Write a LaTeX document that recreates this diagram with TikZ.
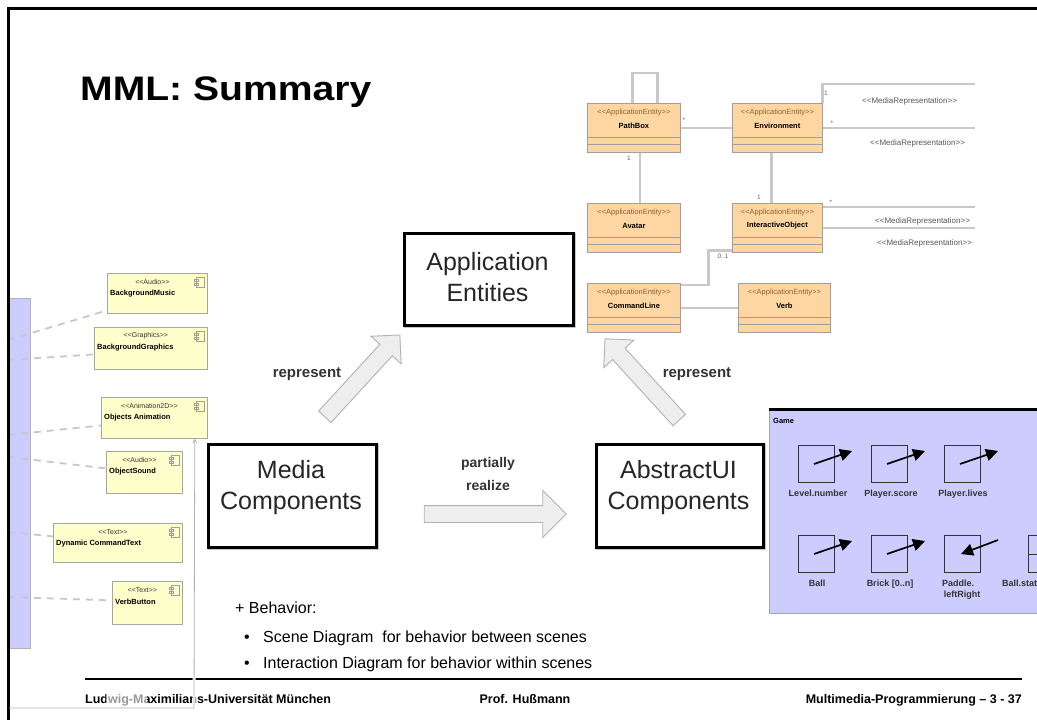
\documentclass[tikz,border=0pt]{standalone}
\usepackage{fontspec}
\usepackage{graphicx}
\setmainfont{Liberation Sans}
\usetikzlibrary{shapes.arrows,arrows.meta}

\definecolor{lavender}{RGB}{204,204,255}
\definecolor{entityfill}{RGB}{253,214,162}
\definecolor{compfill}{RGB}{255,255,204}
\definecolor{assocgray}{RGB}{200,200,200}
\definecolor{stereocol}{RGB}{150,95,45}

\newcommand\fsz[1]{\fontsize{#1}{#1}\selectfont}
\newcommand\stL{<\kern0pt<}
\newcommand\stR{>\kern0pt>}

\tikzset{
  entity/.style={draw=gray!75, fill=entityfill, line width=0.8, inner sep=0, anchor=north west},
  mediabox/.style={draw=gray!70, fill=compfill, line width=0.8, inner sep=0, anchor=north west},
  assoc/.style={draw=assocgray, line width=2.7},
  realization/.style={draw=assocgray, line width=1.8, dash pattern=on 7pt off 6pt},
  conceptbox/.style={draw=black, line width=2.6, fill=white, inner sep=0, anchor=north west},
  conceptshadow/.style={draw=gray!45, line width=3},
  conceptlabel/.style={font=\fontsize{25}{31}\selectfont, text=black!85, align=center, inner sep=0},
  blockarrow/.style={single arrow, draw=gray!60, fill=gray!13, line width=0.9,
                     inner xsep=0, inner ysep=8, single arrow head extend=12},
  arrowlabel/.style={font=\fsz{15}\bfseries, text=black!80, inner sep=0},
  stereo/.style={font=\fsz{7.5}, text=stereocol, inner sep=0},
  entname/.style={font=\fsz{7.5}\bfseries, inner sep=0},
  mult/.style={font=\fsz{6.5}, text=black!60, inner sep=0},
  mediarep/.style={font=\fsz{8}, text=black!65, inner sep=0, anchor=west},
  compstereo/.style={font=\fsz{7}, text=black!80, inner sep=0},
  compname/.style={font=\fsz{7.5}\bfseries, inner sep=0, anchor=west},
  widget/.style={draw=black!80, line width=1.3, inner sep=0, minimum width=36, minimum height=37, anchor=north west},
  widgetarrow/.style={line width=1.7, -{Triangle[length=12pt,width=12pt]}},
  widgetlabel/.style={font=\fsz{9}\bfseries, text=black!80, inner sep=0, anchor=base},
  bodytext/.style={font=\fsz{16}, inner sep=0, anchor=base west},
  footer/.style={font=\fsz{12.5}\bfseries, inner sep=0, anchor=base},
}

% application entity class: name, x, y, width, title
\newcommand\appentity[5]{%
  \node[entity, minimum width=#4, minimum height=49] (#1) at (#2,#3) {};
  \draw[draw=gray!75, line width=0.7]
     ([yshift=15]#1.south west) -- ([yshift=15]#1.south east)
     ([yshift=8]#1.south west) -- ([yshift=8]#1.south east);
  \node[stereo] at ([yshift=-9.5]#1.north) {\stL ApplicationEntity\stR};
  \node[entname] at ([yshift=-23]#1.north) {#5};
}

% media component: name, x, y, width, height, stereotype, title
\newcommand\mediacomp[7]{%
  \node[mediabox, minimum width=#4, minimum height=#5] (#1) at (#2,#3) {};
  \node[compstereo] at ([xshift=-5,yshift=-9]#1.north) {\stL #6\stR};
  \node[compname] at ([xshift=3,yshift=-21]#1.north west) {#7};
  \draw[draw=gray!75, fill=compfill, line width=0.6]
     ([xshift=-12,yshift=-4]#1.north east) rectangle ([xshift=-4,yshift=-14]#1.north east)
     ([xshift=-14,yshift=-6]#1.north east) rectangle ([xshift=-10,yshift=-8]#1.north east)
     ([xshift=-14,yshift=-10]#1.north east) rectangle ([xshift=-10,yshift=-12]#1.north east);
}

% concept box with soft shadow: name, x, y, width, height
\newcommand\concept[5]{%
  \draw[conceptshadow] (#2+2,#3+2) rectangle ++(#4,#5);
  \node[conceptbox, minimum width=#4, minimum height=#5] (#1) at (#2,#3) {};
}

\begin{document}
\begin{tikzpicture}[x=1pt,y=-1pt]
\useasboundingbox (0,0) rectangle (1037,720);
\fill[white] (0,0) rectangle (1037,720);

% ---------- media components (left) ----------
\node[draw=gray!60, fill=lavender, line width=0.8, anchor=north west,
      minimum width=22, minimum height=350, inner sep=0] (mediapanel) at (8,298) {};

\mediacomp{bgmusic}{107}{273}{100}{40}{Audio}{BackgroundMusic}
\mediacomp{bggraphics}{94}{327}{113}{42}{Graphics}{BackgroundGraphics}
\mediacomp{objanim}{101}{397}{106}{41}{Animation2D}{Objects Animation}
\mediacomp{objsound}{106}{451}{76}{42}{Audio}{ObjectSound}
\mediacomp{dyntext}{53}{523}{129}{39}{Text}{Dynamic CommandText}
\mediacomp{verbbutton}{112}{581}{70}{43}{Text}{VerbButton}

\draw[realization] ([yshift=-42]mediapanel.north west) -- ([yshift=-17]bgmusic.west);
\draw[realization] ([yshift=-62]mediapanel.north west) -- ([yshift=-6]bggraphics.west);
\draw[realization] ([yshift=-137]mediapanel.north west) -- ([yshift=-7.5]objanim.west);
\draw[realization] ([yshift=-159]mediapanel.north west) -- ([yshift=4]objsound.west);
\draw[realization] ([yshift=-234]mediapanel.north west) -- ([yshift=6.5]dyntext.west);
\draw[realization] ([yshift=-299]mediapanel.north west) -- ([yshift=2.5]verbbutton.west);

% ---------- slide frame and title ----------
\draw[line width=3] (8,720) -- (8,8) -- (1037,8);
\node[anchor=base west, inner sep=0] (title) at (80,100)
  {\scalebox{1.15}[1]{\fsz{34}\bfseries MML: Summary}};

% ---------- application entities (top right) ----------
\appentity{pathbox}{587}{103}{93}{PathBox}
\appentity{environment}{732}{103}{90}{Environment}
\appentity{avatar}{587}{203}{93}{Avatar}
\appentity{interactive}{732}{203}{90}{InteractiveObject}
\appentity{commandline}{587}{283}{93}{CommandLine}
\appentity{verb}{738}{283}{92}{Verb}

\coordinate (rimTop) at (975,84);
\coordinate (rimR) at (975,0);
\coordinate (ioTop) at ([yshift=-4]interactive.north east);

\draw[assoc] ([xshift=-1.5]pathbox.north) -- ++(0,-30) -| ([xshift=23.5]pathbox.north);
\draw[assoc] (pathbox.east) -- (environment.west);
\draw[assoc] ([xshift=6]pathbox.south) -- ([xshift=6]avatar.north);
\draw[assoc] ([xshift=-6]environment.south) -- ([xshift=-6]interactive.north);
\draw[assoc] (environment.north east) |- (rimTop);
\draw[assoc] (environment.east) -- (environment.east -| rimR);
\draw[assoc] (ioTop) -- (ioTop -| rimR);
\draw[assoc] (interactive.east) -- (interactive.east -| rimR);
\draw[assoc] ([yshift=-2]commandline.north east) -- ++(28,0) |- ([yshift=2]interactive.south west);
\draw[assoc] (commandline.east) -- (verb.west);

\node[mult] at (684,120) {*};
\node[mult] at (629,158) {1};
\node[mult] at (759,197) {1};
\node[mult] at (723,256) {0..1};
\node[mult] at (826,93) {1};
\node[mult] at (832,123) {*};
\node[mult] at (831,202) {*};

\begin{scope}
  \clip (840,80) rectangle (975,260);
  \node[mediarep] at (862,101) {\stL MediaRepresentation\stR};
  \node[mediarep] at (870,143) {\stL MediaRepresentation\stR};
  \node[mediarep] at (875,221) {\stL MediaRepresentation\stR};
  \node[mediarep] at (877,243) {\stL MediaRepresentation\stR};
\end{scope}

% ---------- the three concepts ----------
\concept{appent}{403}{232}{169}{92}
\concept{media}{207}{443}{168}{103}
\concept{abstractui}{595}{443}{167}{103}
\node[conceptlabel] at (487.5,277) {Application\\Entities};
\node[conceptlabel] at (291,487.5) {Media\\Components};
\node[conceptlabel] at (678.5,487.5) {AbstractUI\\Components};

\node[blockarrow, minimum height=111, rotate=47.5] (repL) at (359.5,379) {};
\node[blockarrow, minimum height=110, rotate=132.4] (repR) at (645,382.5) {};
\node[blockarrow, minimum height=142, single arrow head extend=15] (realizeArr) at (491,514) {};
\node[arrowlabel] at (307,374) {represent};
\node[arrowlabel] at (697,374) {represent};
\node[arrowlabel, font=\fsz{14}\bfseries] at (488,464) {partially};
\node[arrowlabel, font=\fsz{14}\bfseries] at (488,485) {realize};

% ---------- abstract UI components (game panel) ----------
\node[draw=gray!70, fill=lavender, line width=1, anchor=north west,
      minimum width=290, minimum height=204, inner sep=0] (game) at (769,409) {};
\draw[line width=3] (game.north west) -- (game.north east);
\node[font=\fsz{7.5}\bfseries, anchor=west, inner sep=0] at (773,421) {Game};

\node[widget] (wLevel) at (798,445) {};
\node[widget] (wScore) at (871,445) {};
\node[widget] (wLives) at (944,445) {};
\node[widget] (wBall) at (798,535) {};
\node[widget] (wBrick) at (871,535) {};
\node[widget] (wPaddle) at (944,535) {};
\node[widget] (wState) at (1028,535) {};
\draw[black!80, line width=1.3] (wState.west) -- (wState.east);

\foreach \w in {wLevel,wScore,wLives,wBall,wBrick}
  \draw[widgetarrow] ([xshift=16,yshift=-19]\w.north west) -- ([xshift=54,yshift=-6]\w.north west);
\draw[widgetarrow] ([xshift=54,yshift=-5]wPaddle.north west) -- ([xshift=17,yshift=-19]wPaddle.north west);

\node[widgetlabel] at (818,496) {Level.number};
\node[widgetlabel] at (891,496) {Player.score};
\node[widgetlabel] at (963,496) {Player.lives};
\node[widgetlabel] at (817,586) {Ball};
\node[widgetlabel] at (890,586) {Brick [0..n]};
\node[widgetlabel] at (958,586) {Paddle.};
\node[widgetlabel] at (962,597) {leftRight};
\node[widgetlabel, anchor=base west] at (1002,586) {Ball.state};

% ---------- behaviour notes ----------
\node[bodytext] (behav) at (235,613) {+ Behavior:};
\node[bodytext] at (244,642) {•};
\node[bodytext] at (263,642) {Scene Diagram\ \ for behavior between scenes};
\node[bodytext] at (244,668) {•};
\node[bodytext] at (263,668) {Interaction Diagram for behavior within scenes};

% ---------- footer ----------
\draw[line width=1.4] (85,679) -- (1022,679);
\node[footer, anchor=base west] at (85,703) {Ludwig-Maximilians-Universität München};
\node[footer] at (525,703) {Prof. Hußmann};
\node[footer, anchor=base east] at (1022,703) {Multimedia-Programmierung – 3 - 37};
\fill[white, opacity=0.6] (106,686) rectangle (147,706);

% ---------- border of the embedded component view ----------
\coordinate (scrCorner) at (194,708);
\coordinate (scrEnd) at (9,708);
\draw[white, line width=3] ([xshift=-13,yshift=-4]objanim.south east) -- (scrCorner);
\draw[gray!60, line width=0.8, {Straight Barb[length=3pt,width=4pt]}-]
  ([xshift=-13]objanim.south east) -- (scrCorner) -- (scrEnd);
\end{tikzpicture}
\end{document}
